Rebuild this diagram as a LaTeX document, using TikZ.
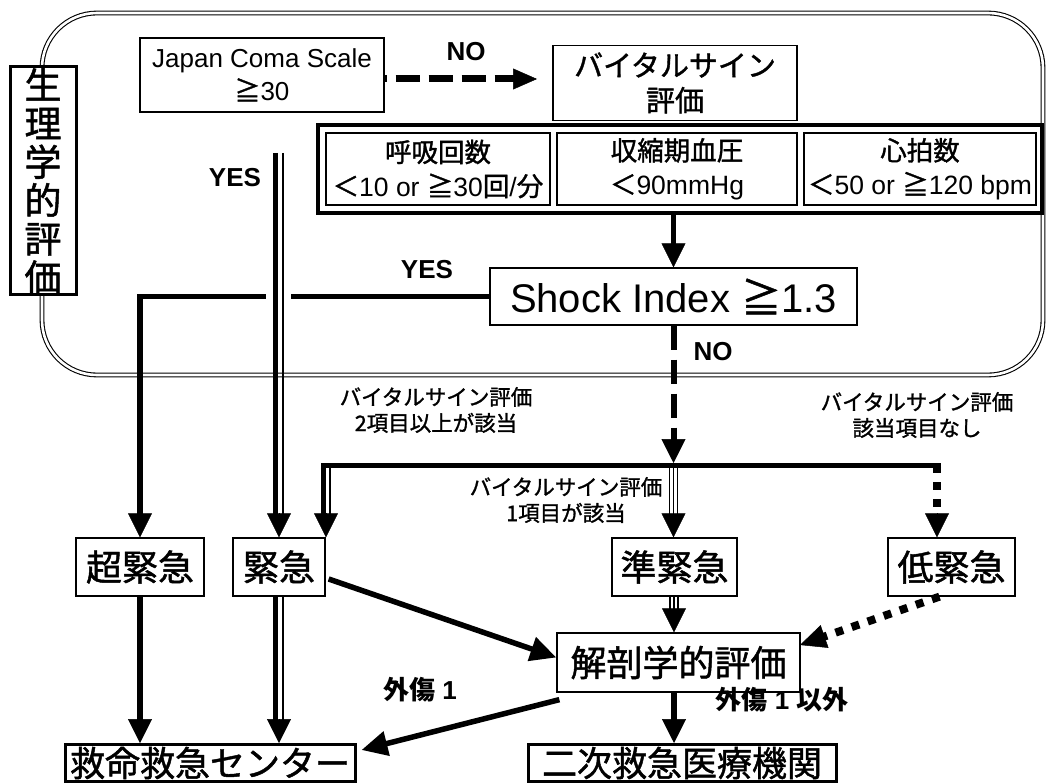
\documentclass[tikz,border=0pt]{standalone}
\usepackage{fontspec}
\setmainfont{Liberation Sans}
\newfontfamily\jp{Noto Sans CJK JP}[FakeBold=1.3]
\newfontfamily\jpb{Noto Sans CJK JP}
\usetikzlibrary{arrows.meta,calc}
\tikzset{
  box/.style={draw, line width=1.3pt, fill=white, inner sep=0pt, align=center},
  heavybox/.style={box, line width=3pt},
  thinl/.style={line width=1.3pt},
  heavy/.style={line width=5.5pt},
  lbl/.style={font=\fontsize{26}{30}\selectfont\bfseries, inner sep=0pt},
  note/.style={font=\jp\fontsize{21.5}{26}\selectfont, align=center, inner sep=0pt},
  head/.style={-{Triangle[width=24pt,length=24pt]}, line width=0.5pt},
  smallhead/.style={-{Triangle[width=21pt,length=24pt]}, line width=0.5pt},
}
\begin{document}
\begin{tikzpicture}[x=1pt,y=-1pt]
\useasboundingbox (0,0) rectangle (1046,783);

% big rounded frame (physiological evaluation)
\draw[line width=1.1pt, double=white, double distance=2.6pt, rounded corners=55pt]
  (42,13) rectangle (1043,375);

% nodes
\node[heavybox, minimum width=66pt, minimum height=228pt,
      font=\jp\fontsize{37}{38.5}\selectfont] (phys) at (43,181) {生\\理\\学\\的\\評\\価};
\node[box, minimum width=244pt, minimum height=74pt,
      font=\fontsize{26}{33}\selectfont] (jcs) at (262,75) {Japan Coma Scale\\{\jp ≧}30};
\node[box, minimum width=244pt, minimum height=75pt,
      font=\jp\fontsize{29}{35}\selectfont] (vbox) at (675,83) {バイタルサイン\\評価};
\node[draw, line width=3.5pt, minimum width=724pt, minimum height=88pt, inner sep=0pt]
      (vframe) at (680,169) {};
\node[box, minimum width=224pt, minimum height=72pt,
      font=\fontsize{26.5}{34}\selectfont] (resp) at (438,169)
      {{\jp 呼吸回数}\\{\jp ＜}10 or {\jp ≧}30{\jp 回}/{\jp 分}};
\node[box, minimum width=240pt, minimum height=72pt,
      font=\fontsize{26.5}{34}\selectfont] (bp) at (677,169)
      {{\jp 収縮期血圧}\\{\jp ＜}90mmHg};
\node[box, minimum width=232pt, minimum height=72pt,
      font=\fontsize{26.5}{34}\selectfont] (hr) at (920,169)
      {{\jp 心拍数}\\{\jp ＜}50 or {\jp ≧}120 bpm};
\node[box, minimum width=367pt, minimum height=57pt,
      font=\fontsize{40}{48}\selectfont] (shock) at (673.5,296.5) {Shock Index {\jp ≧}1.3};

\node[box, minimum width=128pt, minimum height=58pt, font=\jp\fontsize{36}{40}\selectfont]
  (cho) at (140,567) {超緊急};
\node[box, minimum width=92pt, minimum height=58pt, font=\jp\fontsize{36}{40}\selectfont]
  (kin) at (279,567) {緊急};
\node[box, minimum width=125pt, minimum height=58pt, font=\jp\fontsize{36}{40}\selectfont]
  (jun) at (674.5,567) {準緊急};
\node[box, minimum width=127pt, minimum height=58pt, font=\jp\fontsize{36}{40}\selectfont]
  (tei) at (951.5,567) {低緊急};
\node[box, minimum width=243pt, minimum height=59pt, font=\jp\fontsize{36}{40}\selectfont]
  (kai) at (678.5,662.5) {解剖学的評価};
\node[heavybox, minimum width=290pt, minimum height=37pt, font=\jp\fontsize{35}{40}\selectfont]
  (qq) at (210,763) {救命救急センター};
\node[heavybox, minimum width=308pt, minimum height=37pt, font=\jp\fontsize{35}{40}\selectfont]
  (niji) at (682,763) {二次救急医療機関};

% labels
\node[lbl] (no1) at (466,52) {NO};
\node[lbl] (yes1) at (235,178) {YES};
\node[lbl] (yes2) at (427,270) {YES};
\node[lbl] (no2) at (713,352) {NO};
\node[note] (n2) at (436,410) {バイタルサイン評価\\2項目以上が該当};
\node[note] (n0) at (917,415) {バイタルサイン評価\\該当項目なし};
\node[note] (n1) at (566,500) {バイタルサイン評価\\1項目が該当};
\node[lbl] (g1) at (420,690) {{\jpb\bfseries 外傷} 1};
\node[lbl] (g2) at (782,700) {{\jpb\bfseries 外傷} 1 {\jpb\bfseries 以外}};

% coordinates
\coordinate (noTip) at (537,79);
\coordinate (yesA) at (279,153);
\coordinate (hL) at (323,465);
\coordinate (hR) at (937,465);
\coordinate (hM) at (673.5,463);
\coordinate (col) at (674,0);

% JCS -> vital (NO, dashed)
\draw[line width=7pt, dash pattern=on 24pt off 9pt, dash phase=22pt, shorten >=22pt]
  (jcs.east |- noTip) -- (noTip);
\draw[smallhead] ([xshift=-24pt]noTip) -- (noTip);

% vital frame -> shock
\draw[heavy, shorten >=22pt] (shock.north |- vframe.south) -- (shock.north);
\draw[head] ([yshift=24pt]shock.north) -- (shock.north);

% shock YES -> 超緊急
\draw[heavy, shorten >=22pt] (shock.west) -- (cho.north |- shock.west) -- (cho.north);
\draw[head] ([yshift=24pt]cho.north) -- (cho.north);
\fill[white] (266,288) rectangle (291,306);

% JCS YES -> 緊急 (thick + thin)
\draw[line width=5pt, shorten >=22pt] ([xshift=-3.5pt]yesA) -- ([xshift=-3.5pt]kin.north);
\draw[thinl, shorten >=22pt] ([xshift=4pt]yesA) -- ([xshift=4pt]kin.north);
\draw[head] ([yshift=24pt]kin.north) -- (kin.north);

% shock NO (dashed)
\draw[line width=6pt, dash pattern=on 24pt off 10pt, shorten >=22pt] (shock.south) -- (hM);
\draw[head] ([yshift=24pt]hM) -- (hM);

% branch bar and left branch (2 items -> 緊急)
\draw[line width=5pt, shorten >=22pt] ([xshift=4pt]hR) -- (hL) -- (hL |- kin.north);
\draw[thinl, shorten >=22pt] ([xshift=7pt,yshift=-2.5pt]hL) -- ([xshift=7pt]hL |- kin.north);
\draw[head] ([xshift=3pt,yshift=24pt]hL |- kin.north) -- ([xshift=3pt]hL |- kin.north);

% middle branch (1 item -> 準緊急), triple line
\foreach \dx in {-4,0,4}{
  \draw[thinl, shorten >=22pt] ([xshift=\dx pt,yshift=-3pt]hM) -- ([xshift=\dx pt]hM |- jun.north);
}
\draw[head] ([yshift=24pt]hM |- jun.north) -- (hM |- jun.north);

% right branch (none -> 低緊急), dotted
\draw[line width=8pt, dash pattern=on 8pt off 9pt, shorten >=22pt] (hR) -- (hR |- tei.north);
\draw[head] ([yshift=24pt]hR |- tei.north) -- (hR |- tei.north);

% 超緊急 -> 救命救急センター
\draw[heavy, shorten >=22pt] (cho.south) -- (cho.south |- qq.north);
\draw[head] ([yshift=24pt]cho.south |- qq.north) -- (cho.south |- qq.north);

% 緊急 -> 救命救急センター (thick + thin)
\draw[line width=5pt, shorten >=22pt] ([xshift=-3.5pt]kin.south) -- ([xshift=-3.5pt]kin.south |- qq.north);
\draw[thinl, shorten >=22pt] ([xshift=4pt]kin.south) -- ([xshift=4pt]kin.south |- qq.north);
\draw[head] ([yshift=24pt]kin.south |- qq.north) -- (kin.south |- qq.north);

% 緊急 -> 解剖学的評価
\draw[heavy, -{Triangle[width=24pt,length=26pt]}] ([xshift=3pt,yshift=-12pt]kin.east) -- ([yshift=5pt]kai.west);

% 準緊急 -> 解剖学的評価 (triple)
\foreach \dx in {-4,0,4}{
  \draw[thinl, shorten >=22pt] ([xshift=\dx pt]col |- jun.south) -- ([xshift=\dx pt]col |- kai.north);
}
\draw[head] ([yshift=24pt]col |- kai.north) -- (col |- kai.north);

% 低緊急 -> 解剖学的評価 (dotted)
\coordinate (dotS) at ([xshift=-12pt]tei.south);
\coordinate (dotTip) at (800,645);
\draw[line width=8pt, dash pattern=on 8pt off 9pt, shorten >=24pt] (dotS) -- (dotTip);
\draw[-{Triangle[width=24pt,length=26pt]}, line width=0.5pt] ($(dotTip)!26pt!(dotS)$) -- (dotTip);

% 解剖学的評価 -> 救命救急センター (外傷1)
\draw[heavy, -{Triangle[width=24pt,length=26pt]}] ([xshift=3pt,yshift=-7pt]kai.south west) -- ([xshift=5pt,yshift=13pt]qq.east);

% 解剖学的評価 -> 二次救急医療機関
\draw[heavy, shorten >=22pt] (col |- kai.south) -- (col |- niji.north);
\draw[head] ([yshift=24pt]col |- niji.north) -- (col |- niji.north);
\end{tikzpicture}
\end{document}
